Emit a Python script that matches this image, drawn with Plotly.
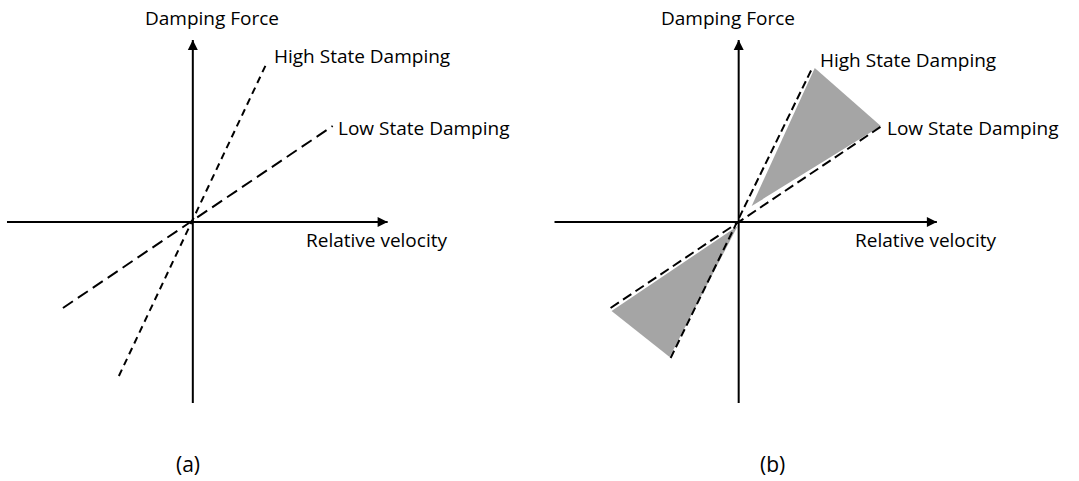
import plotly.graph_objects as go
from plotly.subplots import make_subplots

# axis extents (relative to origin, arbitrary units)
a_xaxis_ext = [-1.86, 1.95]
a_yaxis_ext = [-1.81, 1.82]
b_xaxis_ext = [-1.84, 1.98]
b_yaxis_ext = [-1.81, 1.82]

# damping lines: [x_start, x_end], [y_start, y_end]
a_high_x = [-0.74, 0.74]
a_high_y = [-1.54, 1.59]
a_low_x = [-1.30, 1.40]
a_low_y = [-0.86, 0.96]

b_high_x = [-0.68, 0.74]
b_high_y = [-1.36, 1.55]
b_low_x = [-1.28, 1.43]
b_low_y = [-0.86, 0.96]

# shaded regions in (b)
b_fill_up_x = [0.13, 0.76, 1.42, 0.13]
b_fill_up_y = [0.16, 1.54, 0.96, 0.16]
b_fill_dn_x = [-1.27, -0.69, -0.01, -1.27]
b_fill_dn_y = [-0.89, -1.35, -0.04, -0.89]

font_name = "Open Sans"
font_size = 19
grey = "#a5a5a5"

fig = make_subplots(rows=1, cols=2, horizontal_spacing=0)

# panel (a)
fig.add_trace(go.Scatter(x=a_xaxis_ext, y=[0, 0], mode="lines",
                         line=dict(color="black", width=2)), row=1, col=1)
fig.add_trace(go.Scatter(x=[0, 0], y=a_yaxis_ext, mode="lines",
                         line=dict(color="black", width=2)), row=1, col=1)
fig.add_trace(go.Scatter(x=a_high_x, y=a_high_y, mode="lines",
                         line=dict(color="black", width=2, dash="7px,5px")), row=1, col=1)
fig.add_trace(go.Scatter(x=a_low_x, y=a_low_y, mode="lines",
                         line=dict(color="black", width=2, dash="12px,6px")), row=1, col=1)

# panel (b)
fig.add_trace(go.Scatter(x=b_fill_up_x, y=b_fill_up_y, mode="lines", fill="toself",
                         fillcolor=grey, line=dict(color=grey, width=0)), row=1, col=2)
fig.add_trace(go.Scatter(x=b_fill_dn_x, y=b_fill_dn_y, mode="lines", fill="toself",
                         fillcolor=grey, line=dict(color=grey, width=0)), row=1, col=2)
fig.add_trace(go.Scatter(x=b_xaxis_ext, y=[0, 0], mode="lines",
                         line=dict(color="black", width=2)), row=1, col=2)
fig.add_trace(go.Scatter(x=[0, 0], y=b_yaxis_ext, mode="lines",
                         line=dict(color="black", width=2)), row=1, col=2)
fig.add_trace(go.Scatter(x=b_high_x, y=b_high_y, mode="lines",
                         line=dict(color="black", width=2, dash="8px,4px")), row=1, col=2)
fig.add_trace(go.Scatter(x=b_low_x, y=b_low_y, mode="lines",
                         line=dict(color="black", width=2, dash="10px,5px")), row=1, col=2)

annots = []
for xr, yr, xe, ye, hx, hy, lx, ly, pan, px, fx in [
    ("x", "y", a_xaxis_ext, a_yaxis_ext, a_high_x, a_high_y, a_low_x, a_low_y, "(a)", -0.05, 0.19),
    ("x2", "y2", b_xaxis_ext, b_yaxis_ext, b_high_x, b_high_y, b_low_x, b_low_y, "(b)", 0.34, -0.11),
]:
    # arrow heads
    annots.append(dict(x=xe[1], y=0, ax=xe[1] - 0.05, ay=0, xref=xr, yref=yr, axref=xr, ayref=yr,
                       showarrow=True, arrowhead=2, arrowsize=1, arrowwidth=2, arrowcolor="black", text=""))
    annots.append(dict(x=0, y=ye[1], ax=0, ay=ye[1] - 0.05, xref=xr, yref=yr, axref=xr, ayref=yr,
                       showarrow=True, arrowhead=2, arrowsize=1, arrowwidth=2, arrowcolor="black", text=""))
    annots.append(dict(x=fx, y=2.04, xref=xr, yref=yr, text="Damping Force", showarrow=False,
                       xanchor="center", yanchor="middle"))
    annots.append(dict(x=hx[1] + 0.05, y=hy[1] + 0.07, xref=xr, yref=yr, text="High State Damping",
                       showarrow=False, xanchor="left", yanchor="middle"))
    annots.append(dict(x=lx[1] + 0.03, y=ly[1] - 0.02, xref=xr, yref=yr, text="Low State Damping",
                       showarrow=False, xanchor="left", yanchor="middle"))
    annots.append(dict(x=xe[1] - 0.84, y=-0.18, xref=xr, yref=yr, text="Relative velocity",
                       showarrow=False, xanchor="left", yanchor="middle"))
    annots.append(dict(x=px, y=-2.42, xref=xr, yref=yr, text=pan, showarrow=False,
                       xanchor="center", yanchor="middle", font=dict(size=21)))

fig.update_layout(
    width=1079, height=481,
    margin=dict(l=0, r=0, t=0, b=0),
    paper_bgcolor="white", plot_bgcolor="white",
    showlegend=False,
    font=dict(family=font_name, size=font_size, color="black"),
    annotations=annots,
)
fig.update_xaxes(visible=False, showgrid=False, zeroline=False)
fig.update_yaxes(visible=False, showgrid=False, zeroline=False)
fig.update_xaxes(range=[-1.93, 3.47], row=1, col=1)
fig.update_xaxes(range=[-1.99, 3.40], row=1, col=2)
fig.update_yaxes(range=[-2.59, 2.22], row=1, col=1)
fig.update_yaxes(range=[-2.59, 2.22], row=1, col=2)

fig.write_html("out.html", config={"displayModeBar": False},
               post_script="document.body.style.margin='0px';")
